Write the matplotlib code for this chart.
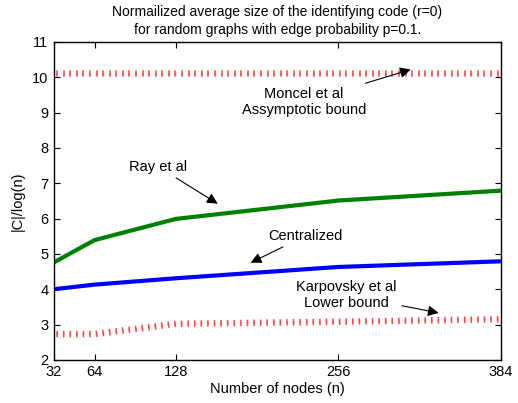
import matplotlib
matplotlib.use("Agg")
import matplotlib.pyplot as plt
import matplotlib.patheffects as pe

plt.rcParams["font.family"] = ["Liberation Sans", "DejaVu Sans"]

# ── data ────────────────────────────────────────────────────────────────────
nodes       = [32, 64, 128, 256, 384]
ray         = [4.76, 5.39, 5.99, 6.51, 6.79]
centralized = [4.00, 4.13, 4.31, 4.63, 4.79]
karpovsky   = [2.73, 2.73, 3.02, 3.08, 3.15]
moncel      = [10.1, 10.1, 10.1, 10.1, 10.1]
xticks      = [32, 64, 128, 256, 384]
yticks      = list(range(2, 12))

fig = plt.figure(figsize=(5.18, 4.03), dpi=100)
ax = fig.add_axes([0.104, 0.107, 0.863, 0.789])

ax.plot(nodes, ray, color="#008000", lw=3.0, solid_capstyle="butt")
ax.plot(nodes, centralized, color="#0000ff", lw=3.0, solid_capstyle="butt")

# dotted red bounds: short ticks across the line (MATLAB thick ':' look)
def red_ticks():
    kw = dict(spacing=4.7, length=0.38, linewidth=1.1, foreground="#ff4545")
    return [pe.TickedStroke(angle=90, **kw), pe.TickedStroke(angle=-90, **kw)]

for series in (karpovsky, moncel):
    ln, = ax.plot(nodes, series, color="none", lw=0)
    ln.set_path_effects(red_ticks())

ax.set_xlim(32, 384)
ax.set_ylim(2, 11)
ax.set_xticks(xticks)
ax.set_yticks(yticks)
ax.tick_params(direction="in", top=True, right=True, length=4,
               labelsize=10.5, width=0.8)
ax.tick_params(axis="y", pad=4)
for s in ax.spines.values():
    s.set_linewidth(1.0)

ax.set_xlabel("Number of nodes (n)", fontsize=10.5, labelpad=2)
ax.set_ylabel("|C|/log(n)", fontsize=10.5, labelpad=5)
ax.set_title("Normailized average size of the identifying code (r=0)\n"
             "for random graphs with edge probability p=0.1.",
             fontsize=10, pad=6, linespacing=1.3)

arrow = dict(arrowstyle="-|>", color="black", lw=0.8, mutation_scale=16,
             shrinkA=2, shrinkB=0)
ax.annotate("Moncel et al\nAssymptotic bound", xy=(313, 10.22),
            xytext=(229, 9.3), ha="center", va="center", fontsize=10.5,
            arrowprops=arrow)
ax.annotate("Ray et al", xy=(161, 6.42), xytext=(114, 7.47),
            ha="center", va="center", fontsize=10.5, arrowprops=arrow)
ax.annotate("Centralized", xy=(187, 4.75), xytext=(230, 5.51),
            ha="center", va="center", fontsize=10.5, arrowprops=arrow)
ax.annotate("Karpovsky et al\nLower bound", xy=(335, 3.33),
            xytext=(262, 3.84), ha="center", va="center", fontsize=10.5,
            arrowprops=arrow)

fig.savefig("out.png", dpi=100)
